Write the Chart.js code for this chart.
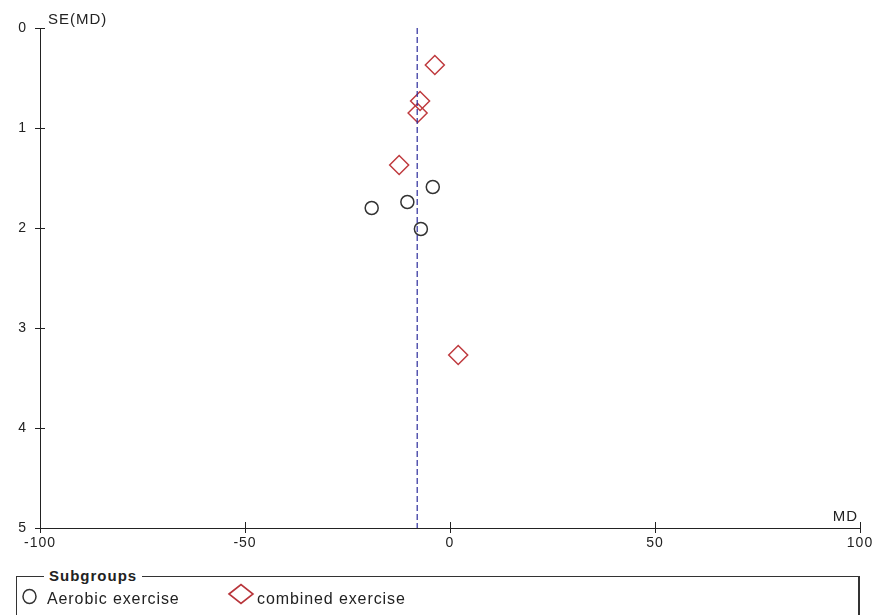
<!DOCTYPE html>
<html>
<head>
<meta charset="utf-8">
<script src="https://cdn.jsdelivr.net/npm/chart.js@4.4.1/dist/chart.umd.min.js"></script>
<style>
    body { margin: 0; background: #fff; width: 879px; height: 615px; overflow: hidden; position: relative;
           font-family: "Liberation Sans", Arial, sans-serif; color: #222; }
    #funnel { position: absolute; left: 0; top: 0; }
    .legend-box { position: absolute; left: 16px; top: 576px; width: 841px; height: 60px; border: 1px solid #333; border-right-width: 2px; }
    .legend-title { position: absolute; left: 44px; top: 567px; padding: 0 5px; background: #fff;
                    font-weight: bold; font-size: 15px; letter-spacing: 1px; line-height: 18px; }
    .legend-label { position: absolute; top: 590px; font-size: 16px; letter-spacing: 0.9px; line-height: 18px; }
    .legend-mark { position: absolute; }
</style>
</head>
<body>
<canvas id="funnel" width="879" height="615"></canvas>
<div class="legend-box"></div>
<div class="legend-title">Subgroups</div>
<svg class="legend-mark" style="left:20px;top:587px" width="20" height="20">
    <ellipse cx="9.5" cy="9.5" rx="6.5" ry="7" fill="none" stroke="#333" stroke-width="1.5"/>
</svg>
<div class="legend-label" style="left:47px">Aerobic exercise</div>
<svg class="legend-mark" style="left:226px;top:583px" width="30" height="24">
    <polygon points="3,11 15,1.5 27,11 15,20.5" fill="none" stroke="#b8343a" stroke-width="1.6"/>
</svg>
<div class="legend-label" style="left:257px">combined exercise</div>

<script>
// Funnel plot data
const aerobicMD = [-4.2, -10.4, -19.1, -7.1];
const aerobicSE = [1.59, 1.74, 1.80, 2.01];
const combinedMD = [-3.7, -7.3, -7.9, -12.4, 2.0];
const combinedSE = [0.37, 0.73, 0.85, 1.37, 3.27];
const pooledMD = -8;
const xTicks = [-100, -50, 0, 50, 100];
const yTicks = [0, 1, 2, 3, 4, 5];

const toPoints = (xs, ys) => xs.map((x, i) => ({ x: x, y: ys[i] }));

// tick marks crossing the axes, plus the axis titles
const axisExtras = {
    id: 'axisExtras',
    beforeDraw(chart) {
        chart.ctx.letterSpacing = '1px';
    },
    afterDraw(chart) {
        const ctx = chart.ctx;
        const x = chart.scales.x, y = chart.scales.y;
        const area = chart.chartArea;
        ctx.save();
        ctx.strokeStyle = '#222';
        ctx.lineWidth = 1;
        ctx.beginPath();
        xTicks.forEach(v => {
            const px = Math.round(x.getPixelForValue(v)) + 0.5;
            ctx.moveTo(px, area.bottom - 6);
            ctx.lineTo(px, area.bottom + 5);
        });
        yTicks.forEach(v => {
            const py = Math.round(y.getPixelForValue(v)) + 0.5;
            ctx.moveTo(area.left - 5, py);
            ctx.lineTo(area.left + 5, py);
        });
        ctx.stroke();

        ctx.fillStyle = '#222';
        ctx.font = '15px "Liberation Sans", Arial, sans-serif';
        ctx.letterSpacing = '1px';
        ctx.textBaseline = 'alphabetic';
        ctx.textAlign = 'left';
        ctx.fillText('SE(MD)', area.left + 8, 24);
        ctx.textAlign = 'right';
        ctx.fillText('MD', area.right - 2, area.bottom - 7);
        ctx.restore();
    }
};

new Chart(document.getElementById('funnel').getContext('2d'), {
    data: {
        datasets: [
            {
                type: 'line',
                label: 'Pooled MD',
                data: [{ x: pooledMD, y: yTicks[0] }, { x: pooledMD, y: yTicks[yTicks.length - 1] }],
                borderColor: '#2c2c9c',
                borderWidth: 1.2,
                borderDash: [6, 3],
                pointRadius: 0,
                fill: false
            },
            {
                type: 'scatter',
                label: 'Aerobic exercise',
                data: toPoints(aerobicMD, aerobicSE),
                pointStyle: 'circle',
                pointRadius: 6.5,
                borderColor: '#333',
                borderWidth: 1.5,
                backgroundColor: 'rgba(0,0,0,0)'
            },
            {
                type: 'scatter',
                label: 'combined exercise',
                data: toPoints(combinedMD, combinedSE),
                pointStyle: 'rectRot',
                pointRadius: 9.5,
                borderColor: '#bf3a3e',
                borderWidth: 1.5,
                backgroundColor: 'rgba(0,0,0,0)'
            }
        ]
    },
    options: {
        responsive: false,
        animation: false,
        clip: false,
        layout: { padding: { top: 28, right: 19, left: 0, bottom: 0 } },
        plugins: {
            legend: { display: false },
            tooltip: { enabled: false }
        },
        scales: {
            x: {
                type: 'linear',
                min: -100,
                max: 100,
                afterFit: scale => { scale.height = 87; },
                afterBuildTicks: scale => { scale.ticks = xTicks.map(v => ({ value: v })); },
                ticks: {
                    color: '#222',
                    padding: 7,
                    maxRotation: 0,
                    autoSkip: false,
                    font: { family: '"Liberation Sans", Arial, sans-serif', size: 14 }
                },
                grid: { display: false, drawTicks: false },
                border: { display: true, color: '#222', width: 1 }
            },
            y: {
                type: 'linear',
                reverse: true,
                min: 0,
                max: 5,
                afterFit: scale => { scale.width = 40; },
                afterBuildTicks: scale => { scale.ticks = yTicks.map(v => ({ value: v })); },
                ticks: {
                    color: '#222',
                    padding: 13,
                    autoSkip: false,
                    font: { family: '"Liberation Sans", Arial, sans-serif', size: 14 }
                },
                grid: { display: false, drawTicks: false },
                border: { display: true, color: '#222', width: 1 }
            }
        }
    },
    plugins: [axisExtras]
});
</script>
</body>
</html>
